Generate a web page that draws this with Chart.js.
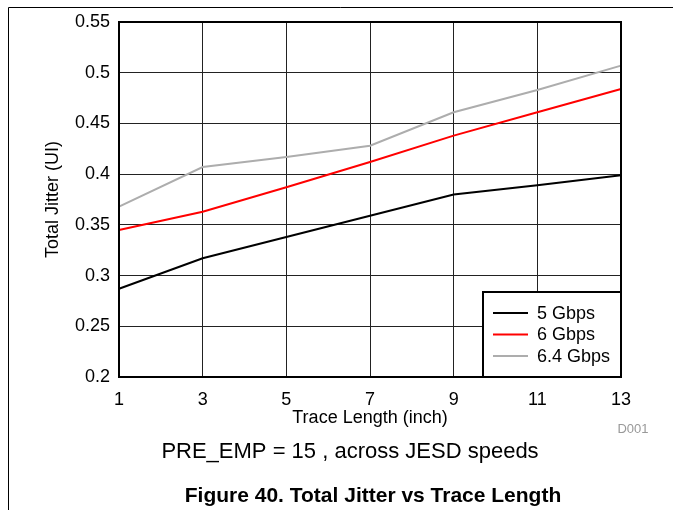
<!DOCTYPE html>
<html>
<head>
<meta charset="utf-8">
<script src="https://cdn.jsdelivr.net/npm/chart.js@4.4.1/dist/chart.umd.min.js"></script>
<style>
  html, body { margin: 0; padding: 0; background: #fff; }
  canvas { display: block; }
</style>
</head>
<body>
<canvas id="myChart" width="673" height="510"></canvas>
<script>
// Trace length (inch)
const traceLengths = ['1', '3', '5', '7', '9', '11', '13'];
// Total jitter (UI) per JESD speed
const jitter5G = [0.287, 0.317, 0.338, 0.359, 0.380, 0.389, 0.399];
const jitter6G = [0.345, 0.363, 0.387, 0.412, 0.438, 0.461, 0.484];
const jitter64G = [0.368, 0.407, 0.417, 0.428, 0.461, 0.483, 0.507];
const yTicks = [0.2, 0.25, 0.3, 0.35, 0.4, 0.45, 0.5, 0.55];

const FONT = "'Liberation Sans', Arial, sans-serif";

// frame, captions and the boxed legend drawn on top of the chart
const extras = {
  id: 'extras',
  beforeDraw(chart) {
    const ctx = chart.ctx;
    ctx.save();
    ctx.strokeStyle = '#000';
    ctx.lineWidth = 1;
    ctx.beginPath();
    ctx.moveTo(8.5, 510);
    ctx.lineTo(8.5, 7.5);
    ctx.lineTo(673, 7.5);
    ctx.stroke();
    ctx.restore();
  },
  afterDatasetsDraw(chart) {
    const ctx = chart.ctx;
    const a = chart.chartArea;
    ctx.save();
    ctx.strokeStyle = '#000';
    ctx.lineWidth = 2;
    ctx.strokeRect(a.left, a.top, a.right - a.left, a.bottom - a.top);

    // legend box in lower right corner
    const w = 138, h = 85;
    const bx = a.right - w, by = a.bottom - h;
    ctx.fillStyle = '#fff';
    ctx.fillRect(bx, by, w, h);
    ctx.strokeRect(bx, by, w, h);
    ctx.font = '18px ' + FONT;
    ctx.textBaseline = 'middle';
    ctx.textAlign = 'left';
    chart.data.datasets.forEach((ds, i) => {
      const y = by + 21 + i * 21.5;
      ctx.strokeStyle = ds.borderColor;
      ctx.lineWidth = 2;
      ctx.beginPath();
      ctx.moveTo(bx + 10, y);
      ctx.lineTo(bx + 45, y);
      ctx.stroke();
      ctx.fillStyle = '#000';
      ctx.fillText(ds.label, bx + 54, y + 1);
    });

    ctx.fillStyle = '#999';
    ctx.font = '13px ' + FONT;
    ctx.textAlign = 'center';
    ctx.fillText('D001', 633, 429);

    ctx.fillStyle = '#000';
    ctx.font = '22px ' + FONT;
    ctx.fillText('PRE_EMP = 15 , across JESD speeds', 350, 452);

    ctx.font = 'bold 21px ' + FONT;
    ctx.fillText('Figure 40. Total Jitter vs Trace Length', 373, 496);
    ctx.restore();
  }
};

const ctx = document.getElementById('myChart').getContext('2d');
new Chart(ctx, {
  type: 'line',
  data: {
    labels: traceLengths,
    datasets: [
      { label: '5 Gbps', data: jitter5G, borderColor: '#000000' },
      { label: '6 Gbps', data: jitter6G, borderColor: '#ff0000' },
      { label: '6.4 Gbps', data: jitter64G, borderColor: '#adadad' }
    ]
  },
  options: {
    responsive: false,
    animation: false,
    devicePixelRatio: 1,
    layout: { padding: { top: 22, right: 52, left: 0, bottom: 0 } },
    elements: {
      line: { borderWidth: 2, tension: 0, fill: false },
      point: { radius: 0, hoverRadius: 0 }
    },
    plugins: {
      legend: { display: false },
      tooltip: { enabled: false }
    },
    scales: {
      x: {
        type: 'category',
        offset: false,
        grid: { color: '#222', lineWidth: 1, drawTicks: false },
        border: { display: false },
        ticks: { color: '#000', font: { family: FONT, size: 18 }, padding: 12, maxRotation: 0 },
        title: {
          display: true,
          text: 'Trace Length (inch)',
          color: '#000',
          font: { family: FONT, size: 18 },
          padding: { top: 0, bottom: 81 }
        },
        afterFit(scale) { scale.height = 133; }
      },
      y: {
        min: 0.2,
        max: 0.55,
        afterBuildTicks(scale) { scale.ticks = yTicks.map(v => ({ value: v })); },
        grid: { color: '#222', lineWidth: 1, drawTicks: false },
        border: { display: false },
        ticks: {
          color: '#000',
          font: { family: FONT, size: 18 },
          padding: 9,
          callback: v => String(+v.toFixed(2))
        },
        title: {
          display: true,
          text: 'Total Jitter (UI)',
          color: '#000',
          font: { family: FONT, size: 18 },
          padding: { top: 42, bottom: 0 }
        },
        afterFit(scale) { scale.width = 119; }
      }
    }
  },
  plugins: [extras]
});
</script>
</body>
</html>
